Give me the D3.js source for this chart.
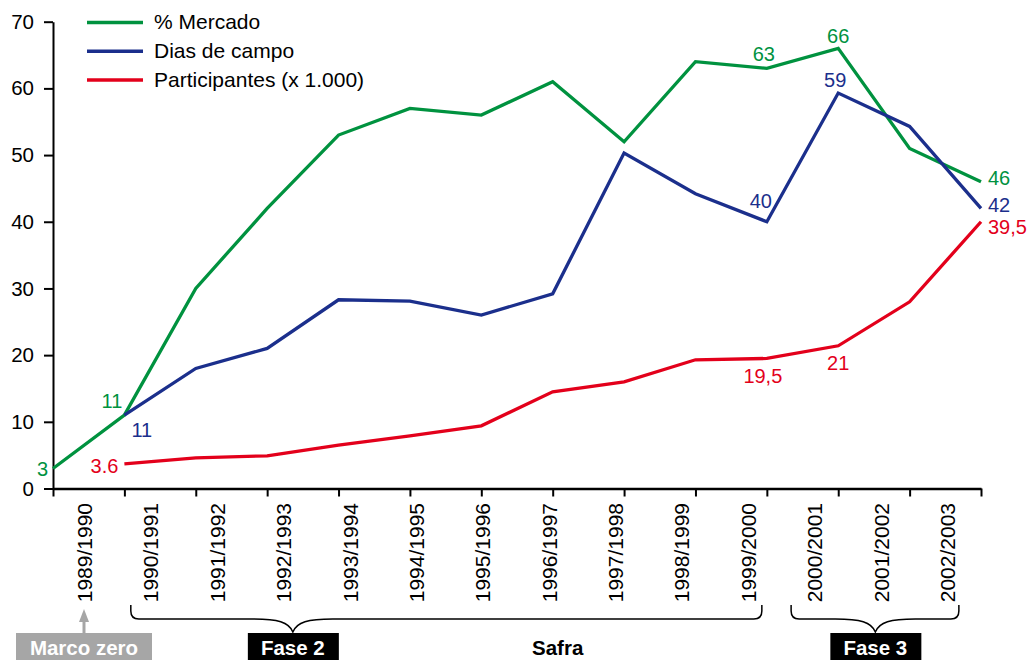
<!DOCTYPE html>
<html>
<head>
<meta charset="utf-8">
<script src="https://cdn.jsdelivr.net/npm/d3@7"></script>
<style>
  html, body { margin: 0; padding: 0; background: #fff; }
  svg { display: block; font-family: Arial, "Liberation Sans", Helvetica, sans-serif; }
</style>
</head>
<body>
<svg id="chart" width="1027" height="660"></svg>
<script>
// ---------- data ----------
const safras = ["1989/1990","1990/1991","1991/1992","1992/1993","1993/1994","1994/1995","1995/1996",
                "1996/1997","1997/1998","1998/1999","1999/2000","2000/2001","2001/2002","2002/2003"];
const mercado = [3, 11, 30, 42, 53, 57, 56, 61, 52, 64, 63, 66, 51, 46];
const diasCampo = [null, 11, 18, 21, 28.3, 28.1, 26, 29.2, 50.3, 44.2, 40, 59.3, 54.3, 42];
const participantes = [null, 3.7, 4.6, 4.9, 6.5, 7.9, 9.4, 14.5, 16, 19.3, 19.5, 21.4, 28, 40];
const yTicks = [0, 10, 20, 30, 40, 50, 60, 70];
const seriesNames = ["% Mercado", "Dias de campo", "Participantes (x 1.000)"];
const seriesColors = ["#00923f", "#1b2f8c", "#e3001b"];
// value labels: [series index, point index, text, dx, dy, anchor]
const valueLabels = [
  [0, 0, "3", -5, 8, "end"],
  [0, 1, "11", -2, -7, "end"],
  [1, 1, "11", 7, 22, "start"],
  [2, 1, "3.6", -6, 9, "end"],
  [0, 10, "63", -3, -7, "middle"],
  [0, 11, "66", 0, -5, "middle"],
  [1, 11, "59", -3, -6, "middle"],
  [1, 10, "40", -6, -14, "middle"],
  [0, 13, "46", 7, 3, "start"],
  [1, 13, "42", 7, 4, "start"],
  [2, 13, "39,5", 7, 12, "start"],
  [2, 10, "19,5", -4, 25, "middle"],
  [2, 11, "21", 0, 24, "middle"]
];

// ---------- scales ----------
const svg = d3.select("#chart");
const x = d3.scaleLinear().domain([0, safras.length - 1]).range([53, 981]);
const xLabel = d3.scalePoint().domain(safras).range([85, 948]);
const y = d3.scaleLinear().domain([0, 70]).range([488.5, 21.7]);

// ---------- axes ----------
const yAxis = svg.append("g").attr("transform", `translate(${x(0)},0)`)
  .call(d3.axisLeft(y).tickValues(yTicks).tickSize(9).tickPadding(10).tickSizeOuter(0));
yAxis.select(".domain").attr("stroke", "#000").attr("stroke-width", 2);
yAxis.selectAll(".tick line").attr("stroke", "#000").attr("stroke-width", 2);
yAxis.selectAll(".tick text").attr("font-size", 20.5).attr("fill", "#000")
  .attr("font-family", "Arial, 'Liberation Sans', sans-serif");

const xAxis = svg.append("g").attr("transform", `translate(0,${y(0)})`)
  .call(d3.axisBottom(x).tickValues(d3.range(safras.length)).tickSize(8).tickSizeOuter(0).tickFormat(""));
xAxis.select(".domain").attr("stroke", "#000").attr("stroke-width", 2.5);
xAxis.selectAll(".tick line").attr("stroke", "#000").attr("stroke-width", 2);

svg.append("g").selectAll("text").data(safras).join("text")
  .attr("transform", d => `translate(${xLabel(d) + 7},503) rotate(-90)`)
  .attr("text-anchor", "end")
  .attr("font-size", 21)
  .attr("fill", "#000")
  .text(d => d);

// ---------- lines ----------
const allSeries = [mercado, diasCampo, participantes];
const line = d3.line()
  .defined(d => d != null)
  .x((d, i) => x(i))
  .y(d => y(d));
svg.append("g").selectAll("path").data(allSeries).join("path")
  .attr("d", d => line(d))
  .attr("fill", "none")
  .attr("stroke", (d, i) => seriesColors[i])
  .attr("stroke-width", 3.3)
  .attr("stroke-linejoin", "miter");

// ---------- value labels ----------
svg.append("g").selectAll("text").data(valueLabels).join("text")
  .attr("x", d => x(d[1]) + d[3])
  .attr("y", d => y(allSeries[d[0]][d[1]]) + d[4])
  .attr("text-anchor", d => d[5])
  .attr("font-size", 20)
  .attr("fill", d => seriesColors[d[0]])
  .text(d => d[2]);

// ---------- legend ----------
const legend = svg.append("g");
seriesNames.forEach((name, i) => {
  const ly = 22.5 + i * 28.8;
  legend.append("line").attr("x1", 87).attr("x2", 143).attr("y1", ly).attr("y2", ly)
    .attr("stroke", seriesColors[i]).attr("stroke-width", 3.5);
  legend.append("text").attr("x", 154).attr("y", ly + 6.5)
    .attr("font-size", 21).attr("fill", "#000").text(name);
});

// ---------- annotations (braces and boxes) ----------
function brace(x1, x2, xp) {
  const top = 605, mid = 619, tip = 632, r = 8, w = 40;
  return `M${x1},${top} L${x1},${mid - r} Q${x1},${mid} ${x1 + r},${mid} ` +
         `L${xp - w},${mid} C${xp - 15},${mid} ${xp - 4},${mid + 3} ${xp},${tip} ` +
         `C${xp + 4},${mid + 3} ${xp + 15},${mid} ${xp + w},${mid} ` +
         `L${x2 - r},${mid} Q${x2},${mid} ${x2},${mid - r} L${x2},${top}`;
}
const ann = svg.append("g");
ann.append("path").attr("d", brace(x(1.09), x(9.93), x(3.36)))
  .attr("fill", "none").attr("stroke", "#000").attr("stroke-width", 1.5);
ann.append("path").attr("d", brace(x(10.34), x(12.69), x(11.52)))
  .attr("fill", "none").attr("stroke", "#000").attr("stroke-width", 1.5);

// Marco zero
const mz = xLabel(safras[0]) - 1;
ann.append("line").attr("x1", mz).attr("x2", mz).attr("y1", 618).attr("y2", 633)
  .attr("stroke", "#a6a6a6").attr("stroke-width", 3);
ann.append("path").attr("d", `M${mz - 5},${622} L${mz},${609} L${mz + 5},${622} Z`).attr("fill", "#a6a6a6");
ann.append("rect").attr("x", mz - 68).attr("y", 633).attr("width", 136).attr("height", 27).attr("fill", "#a6a6a6");
ann.append("text").attr("x", mz).attr("y", 655).attr("text-anchor", "middle")
  .attr("font-size", 20.5).attr("font-weight", "bold").attr("fill", "#fff").text("Marco zero");

// Fase 2
const f2 = x(3.36);
ann.append("rect").attr("x", f2 - 45).attr("y", 633).attr("width", 91).attr("height", 27).attr("fill", "#000");
ann.append("text").attr("x", f2).attr("y", 655).attr("text-anchor", "middle")
  .attr("font-size", 20.5).attr("font-weight", "bold").attr("fill", "#fff").text("Fase 2");

// Safra
ann.append("text").attr("x", x(7.07)).attr("y", 655).attr("text-anchor", "middle")
  .attr("font-size", 20.5).attr("font-weight", "bold").attr("fill", "#000").text("Safra");

// Fase 3
const f3 = x(11.52);
ann.append("rect").attr("x", f3 - 45).attr("y", 633).attr("width", 91).attr("height", 27).attr("fill", "#000");
ann.append("text").attr("x", f3).attr("y", 655).attr("text-anchor", "middle")
  .attr("font-size", 20.5).attr("font-weight", "bold").attr("fill", "#fff").text("Fase 3");
</script>
</body>
</html>
